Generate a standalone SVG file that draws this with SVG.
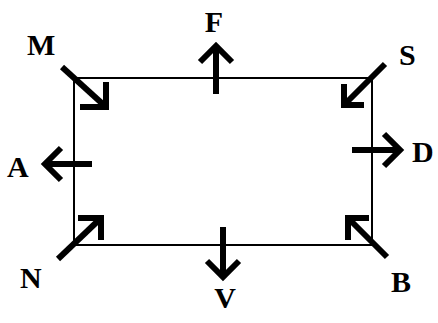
<svg xmlns="http://www.w3.org/2000/svg" width="438" height="323" viewBox="0 0 438 323">
<style>
.lbl{font-family:"Liberation Serif","DejaVu Serif",serif;font-weight:bold;font-size:30px;fill:#000}
.ar{fill:none;stroke:#000;stroke-width:6;stroke-linejoin:miter;stroke-linecap:butt}
</style>
<rect width="438" height="323" fill="#fff"/>
<g id="rect"><rect x="74" y="78" width="298" height="167" fill="none" stroke="#000" stroke-width="2"/></g>
<g id="connectors">
<g id="arrow-M"><path class="ar" d="M62,67 L106,107"/><path class="ar" d="M106,82 L106,107 L80,107"/></g>
<g id="arrow-F"><path class="ar" d="M216,94 L216,47"/><path class="ar" d="M200,62 L216,46 L232,62"/></g>
<g id="arrow-S"><path class="ar" d="M385,64 L344,105"/><path class="ar" d="M344,84 L344,105 L364,105"/></g>
<g id="arrow-A"><path class="ar" d="M92,164 L45,164"/><path class="ar" d="M61,148 L45,164 L61,180"/></g>
<g id="arrow-D"><path class="ar" d="M352,150 L400,150"/><path class="ar" d="M384,134 L400,150 L384,166"/></g>
<g id="arrow-N"><path class="ar" d="M58,259 L101,218"/><path class="ar" d="M78,218 L101,218 L101,240"/></g>
<g id="arrow-V"><path class="ar" d="M223,227 L223,276"/><path class="ar" d="M207,261 L223,277 L239,261"/></g>
<g id="arrow-B"><path class="ar" d="M387,257 L348,218"/><path class="ar" d="M348,240 L348,218 L369,218"/></g>
</g>
<g id="label-M"><text class="lbl" x="27" y="55">M</text></g>
<g id="label-F"><text class="lbl" x="214" y="32" text-anchor="middle">F</text></g>
<g id="label-S"><text class="lbl" x="399" y="65">S</text></g>
<g id="label-A"><text class="lbl" x="7" y="177">A</text></g>
<g id="label-D"><text class="lbl" x="412" y="162">D</text></g>
<g id="label-N"><text class="lbl" x="20" y="288">N</text></g>
<g id="label-V"><text class="lbl" x="225" y="308" text-anchor="middle">V</text></g>
<g id="label-B"><text class="lbl" x="391" y="292">B</text></g>
</svg>
